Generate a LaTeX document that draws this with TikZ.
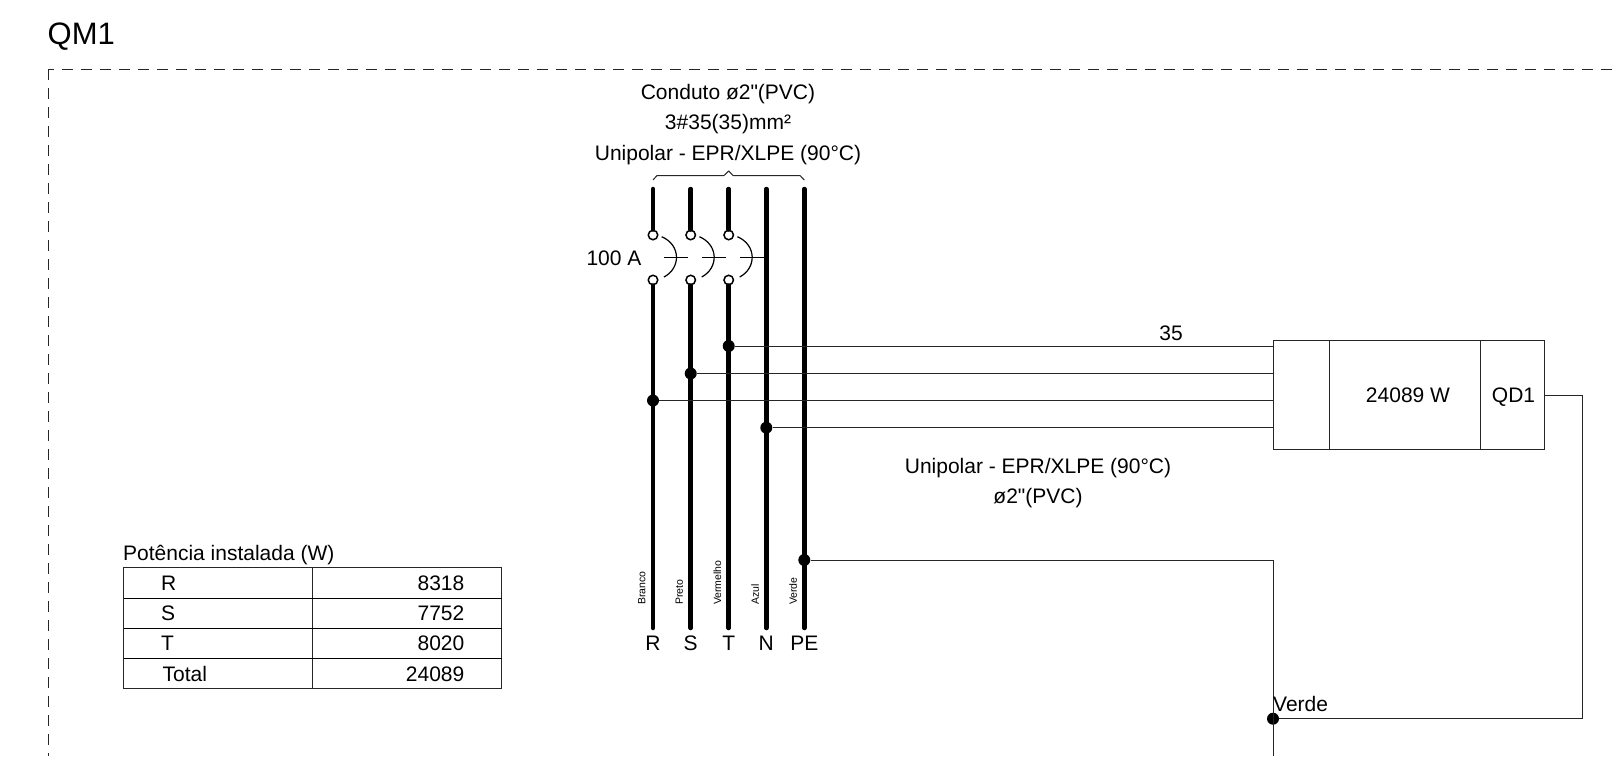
\documentclass[tikz,border=0pt]{standalone}
\usepackage{fontspec}
\setmainfont{Liberation Sans}[Ligatures=TeXOff]
\tikzset{
  wire/.style={draw=black!85,line width=1pt},
  bus/.style={draw=black,line width=4.5pt,line cap=round},
  dot/.style={circle,fill=black,inner sep=0pt,minimum size=12pt},
  open/.style={circle,draw=black,fill=white,line width=1.5pt,inner sep=0pt,minimum size=9.5pt},
  txt/.style={inner sep=0pt,font=\fontsize{21}{30.4}\selectfont,align=center},
  tinytxt/.style={inner sep=0pt,font=\fontsize{10.5}{12}\selectfont,rotate=90,anchor=west},
  cell/.style={draw=black!85,line width=1pt,inner sep=0pt,outer sep=0pt,minimum height=108.6pt},
}
\begin{document}
\begin{tikzpicture}[x=1pt,y=-1pt]
  \useasboundingbox (0,0) rectangle (1616,756);
  \node[txt,anchor=west,font=\fontsize{31}{36}\selectfont] (title) at (47.5,36.5) {QM1};
  % frame runs off the page
  \coordinate (corner) at (48,69);
  \coordinate (frameright) at (1616,69);
  \coordinate (framebottom) at (48,756);
  \draw[black!85,line width=1pt,dash pattern=on 10.5pt off 8.5pt,dash phase=5pt] (corner) -- (frameright);
  \draw[black!85,line width=1pt,dash pattern=on 10.5pt off 8.5pt] (corner) -- (framebottom);
  \node[txt] (conduit) at (728,124.5) {Conduto ø2"(PVC)\\3\#35(35)mm²\\Unipolar - EPR/XLPE (90°C)};
  \draw[black!85,line width=1pt] (653,180) -- (657,175.5) -- (724,175.5) -- (728.7,171) -- (733,175.5) -- (800,175.5) -- (804.3,180);
  \foreach \name/\X/\colour in {R/653/Branco,S/690.7/Preto,T/728.7/Vermelho,N/766.3/Azul,PE/804.3/Verde} {%
    \coordinate (top\name) at (\X,189);
    \coordinate (bot\name) at (\X,628);
    \node[txt] (letter\name) at (\X,643.5) {\name};
    \node[tinytxt] (colour\name) at (\X-11.3,605) {\colour};
  }
  \draw[bus] (topN) -- (botN);
  \draw[bus] (topPE) -- (botPE);
  \foreach \name/\X in {R/653,S/690.7,T/728.7} {%
    \node[open] (upper\name) at (\X,235) {};
    \node[open] (lower\name) at (\X,280) {};
    \draw[bus] (top\name) -- (upper\name);
    \draw[bus] (lower\name) -- (bot\name);
    \draw[black,line width=1.2pt] (\X+8.7,236.7) .. controls (\X+28,245) and (\X+28,268) .. (\X+11,277);
  }
  \draw[black,line width=1.2pt] (664,257.3) -- (687.7,257.3);
  \draw[black,line width=1.2pt] (701.7,257.3) -- (725.7,257.3);
  \draw[black,line width=1.2pt] (739.7,257.3) -- (766.3,257.3);
  \node[txt] (rating) at (614,258) {100 A};
  \node[dot] (dotT) at (728.7,346) {};
  \node[dot] (dotS) at (690.7,373.5) {};
  \node[dot] (dotR) at (653,400.5) {};
  \node[dot] (dotN) at (766.3,427.7) {};
  \node[dot] (dotPE) at (804.3,560) {};
  % QD1 board
  \node[cell,minimum width=56.7pt] (boxin) at (1301.6,395) {};
  \node[cell,minimum width=151pt,anchor=west] (boxload) at (boxin.east) {};
  \node[cell,minimum width=64pt,anchor=west] (boxname) at (boxload.east) {};
  \node[txt] (loadtext) at (1408,395) {24089 W};
  \node[txt] (nametext) at (1513.5,396.8) {QD1};
  \foreach \name in {T,S,R,N} {%
    \draw[wire] (dot\name) -- (dot\name -| boxin.west);
  }
  \node[txt] (load) at (1171,333.5) {35};
  \node[txt] (cable) at (1038,483) {Unipolar - EPR/XLPE (90°C)\\ø2"(PVC)};
  \node[dot] (dotV) at (1273,718.7) {};
  \coordinate (pagebottom) at (1273,756);
  \coordinate (turn) at (1582.7,718.7);
  \draw[wire] (dotPE) -- (dotPE -| dotV) -- (pagebottom);
  \draw[wire] (boxname.east) -| (turn) -- (dotV);
  \node[txt,anchor=west] (verde) at (1273,703.5) {Verde};
  % table
  \node[txt,anchor=west] (power) at (123,555.5) {Potência instalada (W)};
  \draw[black!85,line width=1pt] (123.7,567.7) rectangle (501.7,688.3);
  \draw[black!85,line width=1pt] (312.7,567.7) -- (312.7,688.3);
  \foreach \Y in {598,628,658.3} {%
    \draw[black,line width=1pt] (123.7,\Y) -- (501.7,\Y);
  }
  \foreach \name/\val/\Y/\X in {R/8318/583.2/161,S/7752/613.2/161,T/8020/643.2/161,Total/24089/674/162.5} {%
    \node[txt,anchor=west] (row\name) at (\X,\Y) {\name};
    \node[txt,anchor=east] (val\name) at (464.5,\Y) {\val};
  }
\end{tikzpicture}
\end{document}
